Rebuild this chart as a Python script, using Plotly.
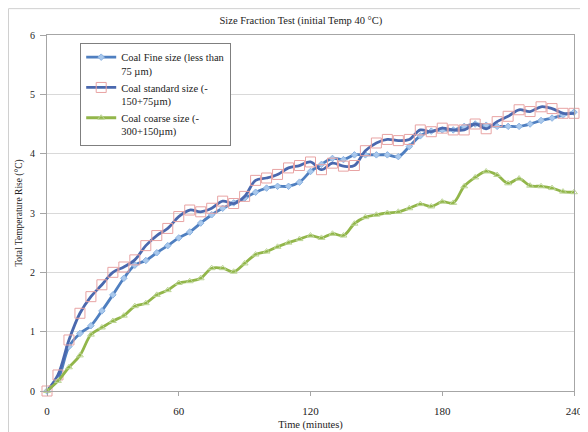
import plotly.graph_objects as go

time_min = list(range(0, 245, 5))

fine = [0, 0.2, 0.75, 0.97, 1.1, 1.35, 1.62, 1.9, 2.12, 2.2, 2.33, 2.45, 2.58,
        2.68, 2.83, 2.97, 3.08, 3.17, 3.25, 3.35, 3.42, 3.45, 3.45, 3.52, 3.7,
        3.82, 3.92, 3.9, 3.98, 3.98, 3.98, 3.98, 3.95, 4.12, 4.3, 4.38, 4.4,
        4.4, 4.46, 4.5, 4.48, 4.46, 4.46, 4.46, 4.5, 4.56, 4.6, 4.65, 4.7]

standard = [0, 0.27, 0.86, 1.31, 1.59, 1.79, 2.0, 2.09, 2.21, 2.45, 2.62, 2.74, 2.94,
            3.05, 3.02, 3.08, 3.2, 3.16, 3.28, 3.55, 3.59, 3.65, 3.76, 3.8, 3.86,
            3.73, 3.84, 3.79, 3.8, 4.05, 4.18, 4.24, 4.22, 4.24, 4.4, 4.37, 4.43,
            4.4, 4.4, 4.5, 4.42, 4.54, 4.63, 4.74, 4.71, 4.79, 4.76, 4.68, 4.68]

coarse = [0, 0.17, 0.4, 0.6, 0.95, 1.07, 1.18, 1.27, 1.43, 1.48, 1.62, 1.7, 1.82,
          1.85, 1.9, 2.07, 2.07, 2.01, 2.15, 2.3, 2.35, 2.43, 2.5, 2.56, 2.62,
          2.58, 2.65, 2.62, 2.82, 2.93, 2.97, 3.0, 3.02, 3.08, 3.15, 3.11, 3.19,
          3.17, 3.45, 3.6, 3.7, 3.64, 3.5, 3.58, 3.46, 3.45, 3.42, 3.36, 3.35]

names = ["Coal Fine size (less than<br>75 \u00b5m)",
         "Coal standard size (-<br>150+75\u00b5m)",
         "Coal coarse size (-<br>300+150\u00b5m)"]

x_ticks = [0, 60, 120, 180, 240]
y_ticks = [0, 1, 2, 3, 4, 5, 6]

SERIF = "Liberation Serif, Times New Roman, serif"

fig = go.Figure()
fig.add_trace(go.Scatter(
    x=time_min, y=fine, name=names[0], mode="lines+markers", line_shape="spline",
    line=dict(color="#4F7FC0", width=2.8),
    marker=dict(symbol="diamond", size=5, color="#A9C8EC", line=dict(color="#8DB4E2", width=1)),
    cliponaxis=False, legendgroup="a"))
fig.add_trace(go.Scatter(
    x=time_min, y=standard, name=names[1], mode="lines+markers", line_shape="spline",
    line=dict(color="#4A68AE", width=2.8),
    marker=dict(symbol="square-open", size=10, color="#E8A3A3", line=dict(width=1)),
    cliponaxis=False, legendgroup="b"))
fig.add_trace(go.Scatter(
    x=time_min, y=coarse, name=names[2], mode="lines+markers", line_shape="spline",
    line=dict(color="#92B64A", width=2.8),
    marker=dict(symbol="triangle-up-open", size=6, color="#BCD595", line=dict(width=1)),
    cliponaxis=False, legendgroup="c"))

# page has an 8px body margin; figure is sized so the plot lands where the reference has it
fig.update_layout(
    width=580, height=424,
    margin=dict(l=39, r=14, t=27, b=41, autoexpand=False),
    paper_bgcolor="white", plot_bgcolor="white",
    font=dict(family=SERIF, size=10, color="#222222"),
    title=dict(text="Size Fraction Test (initial Temp 40 \u00b0C)", x=0.505, xanchor="center",
               y=0.972, yanchor="middle", font=dict(family=SERIF, size=10.5, color="#222222")),
    showlegend=True,
    legend=dict(x=0.063, y=0.978, xanchor="left", yanchor="top",
                bgcolor="white", bordercolor="#7F7F7F", borderwidth=1,
                font=dict(family=SERIF, size=10.5, color="#222222"),
                valign="top", tracegroupgap=0),
    xaxis=dict(range=[0, 240], tickvals=x_ticks, ticktext=[str(v) for v in x_ticks],
               showgrid=False, zeroline=False, showline=True, linecolor="#A6A6A6", linewidth=1,
               mirror=True, ticks="outside", ticklen=4, tickcolor="#A6A6A6",
               automargin=False, ticklabelstandoff=6,
               tickfont=dict(family=SERIF, size=11, color="#222222"),
               title=dict(text="Time (minutes)", standoff=4,
                          font=dict(family=SERIF, size=10.5, color="#222222"))),
    yaxis=dict(range=[0, 6], tickvals=y_ticks, ticktext=[str(v) for v in y_ticks],
               showgrid=True, gridcolor="#D9D9D9", gridwidth=1, zeroline=False,
               showline=True, linecolor="#A6A6A6", linewidth=1, mirror=True,
               ticks="outside", ticklen=6, tickcolor="#A6A6A6",
               automargin=False, ticklabelstandoff=3,
               tickfont=dict(family=SERIF, size=10, color="#222222"),
               title=dict(text="Total Temperature Rise (\u00b0C)", standoff=5,
                          font=dict(family=SERIF, size=9.5, color="#222222"))),
)

fig.add_shape(type="rect", xref="paper", yref="paper",
              x0=-0.073, x1=1.021, y0=-0.3, y1=1.074,
              line=dict(color="#D0D0D0", width=1), layer="below")

fig.write_html("out.html")
